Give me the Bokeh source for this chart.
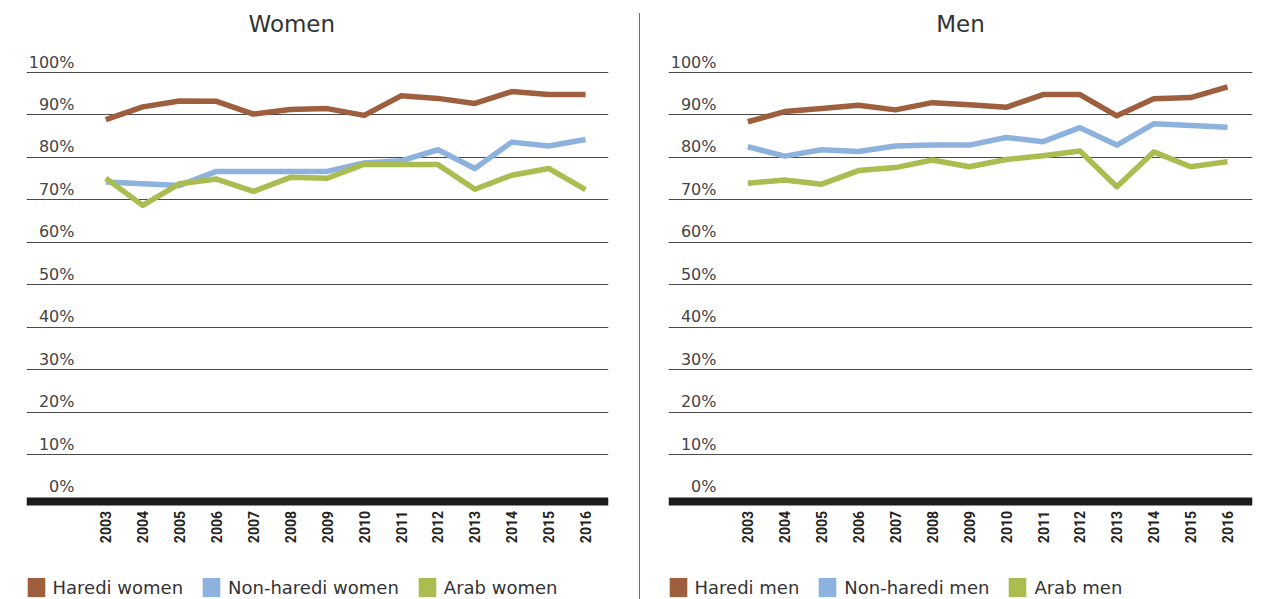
import math
from bokeh.plotting import figure
from bokeh.layouts import row
from bokeh.models import FixedTicker, Legend, LegendItem, Title, Range1d, Div
from bokeh.embed import file_html
from bokeh.resources import INLINE
from bokeh.core.properties import value

# ---------------- data ----------------
years = [2003, 2004, 2005, 2006, 2007, 2008, 2009, 2010, 2011, 2012, 2013, 2014, 2015, 2016]

haredi_women = [88.9, 91.9, 93.3, 93.2, 90.2, 91.3, 91.5, 89.9, 94.5, 93.9, 92.7, 95.5, 94.8, 94.8]
non_haredi_women = [74.2, 73.8, 73.4, 76.7, 76.7, 76.7, 76.7, 78.7, 79.2, 81.8, 77.4, 83.6, 82.7, 84.2]
arab_women = [75.1, 68.7, 73.8, 74.9, 72.0, 75.3, 75.1, 78.4, 78.3, 78.3, 72.5, 75.8, 77.4, 72.4]

haredi_men = [88.4, 90.8, 91.5, 92.3, 91.2, 92.9, 92.4, 91.8, 94.8, 94.8, 89.8, 93.8, 94.1, 96.6]
non_haredi_men = [82.5, 80.3, 81.8, 81.4, 82.7, 82.9, 82.9, 84.7, 83.7, 87.0, 82.9, 87.9, 87.5, 87.1]
arab_men = [73.9, 74.7, 73.7, 76.9, 77.6, 79.4, 77.8, 79.5, 80.4, 81.5, 73.1, 81.3, 77.8, 79.0]

pct_ticks = [0, 10, 20, 30, 40, 50, 60, 70, 80, 90, 100]
pct_labels = [f"{t}%" for t in pct_ticks]

women_labels = ["Haredi women", "Non-haredi women", "Arab women"]
men_labels = ["Haredi men", "Non-haredi men", "Arab men"]

colors = ["#9E5F3F", "#8DB2DE", "#A9BD50"]

# ---------------- styling / geometry ----------------
FONT = "DejaVu Sans"
TEXT = "#333333"
FIG_H = 599
TOP = 45                    # border above frame (holds the title)
FRAME_H = FIG_H - TOP       # frame reaches bottom of figure
PX_PER_PCT = 4.245
Y_END = 100 + (72 - TOP) / PX_PER_PCT
Y_START = -(FIG_H - 496.5) / PX_PER_PCT
X_START = 2000.85
PX_PER_YEAR = 36.9


def make_panel(title, series, labels, frame_w, border_l, border_r, title_align, title_offset):
    x_end = X_START + frame_w / PX_PER_YEAR
    p = figure(frame_width=frame_w, frame_height=FRAME_H,
               min_border_left=border_l, min_border_right=border_r,
               min_border_top=TOP, min_border_bottom=0,
               x_range=Range1d(X_START, x_end), y_range=Range1d(Y_START, Y_END),
               toolbar_location=None, output_backend="svg")
    p.outline_line_color = None
    p.background_fill_color = "white"
    p.border_fill_color = "white"

    t = Title(text=title, align=title_align, text_font=FONT, text_font_size="23px",
              text_font_style="normal", text_color=TEXT, standoff=17,
              offset=title_offset)
    p.add_layout(t, "above")

    p.yaxis.visible = False
    p.xgrid.visible = False
    p.ygrid.ticker = FixedTicker(ticks=pct_ticks[1:])
    p.ygrid.grid_line_color = "#4a4a4a"
    p.ygrid.grid_line_width = 1

    xa = p.xaxis[0]
    xa.ticker = FixedTicker(ticks=years)
    xa.fixed_location = -4 / PX_PER_PCT
    xa.axis_line_width = 8
    xa.axis_line_color = "#1c1c1c"
    xa.major_tick_line_color = None
    xa.minor_tick_line_color = None
    xa.major_tick_out = 0
    xa.major_label_standoff = 10
    xa.major_label_orientation = math.pi / 2
    xa.major_label_text_font = "Roboto"
    xa.major_label_text_font_style = "bold"
    xa.major_label_text_font_size = "14px"
    xa.major_label_text_color = "#222222"

    # percentage labels sitting above the gridlines
    p.text(x=[X_START + 48 / PX_PER_YEAR] * len(pct_ticks), y=pct_ticks, text=pct_labels,
           text_align="right", text_baseline="middle", y_offset=-10.5,
           text_font=value(FONT), text_font_size="16px", text_color="#444444")

    for vals, c in zip(series, colors):
        p.line(years, vals, line_color=c, line_width=5.5, line_join="round")

    items = []
    for lab, c in zip(labels, colors):
        r = p.quad(left=[math.nan], right=[math.nan], bottom=[math.nan], top=[math.nan],
                   fill_color=c, line_color=None)
        items.append(LegendItem(label=lab, renderers=[r]))
    lg = Legend(items=items, orientation="horizontal", location=(-1.5, 0),
                glyph_width=22, glyph_height=24, label_standoff=6, spacing=17,
                padding=0, margin=0, border_line_alpha=0, background_fill_alpha=0,
                label_text_font=FONT, label_text_font_size="18px",
                label_text_color=TEXT, label_height=24)
    p.add_layout(lg, "center")
    return p


left = make_panel("Women", [haredi_women, non_haredi_women, arab_women], women_labels,
                  582, 26, 25, "left", 222)

divider = Div(text="", width=1, height=586, margin=(13, 5, 0, 6),
              styles={"background-color": "#6e6e6e"})

right = make_panel("Men", [haredi_men, non_haredi_men, arab_men], men_labels,
                   584, 23, 8, "center", 0)

layout = row(left, divider, right)
open("out.html", "w").write(file_html(layout, INLINE))
